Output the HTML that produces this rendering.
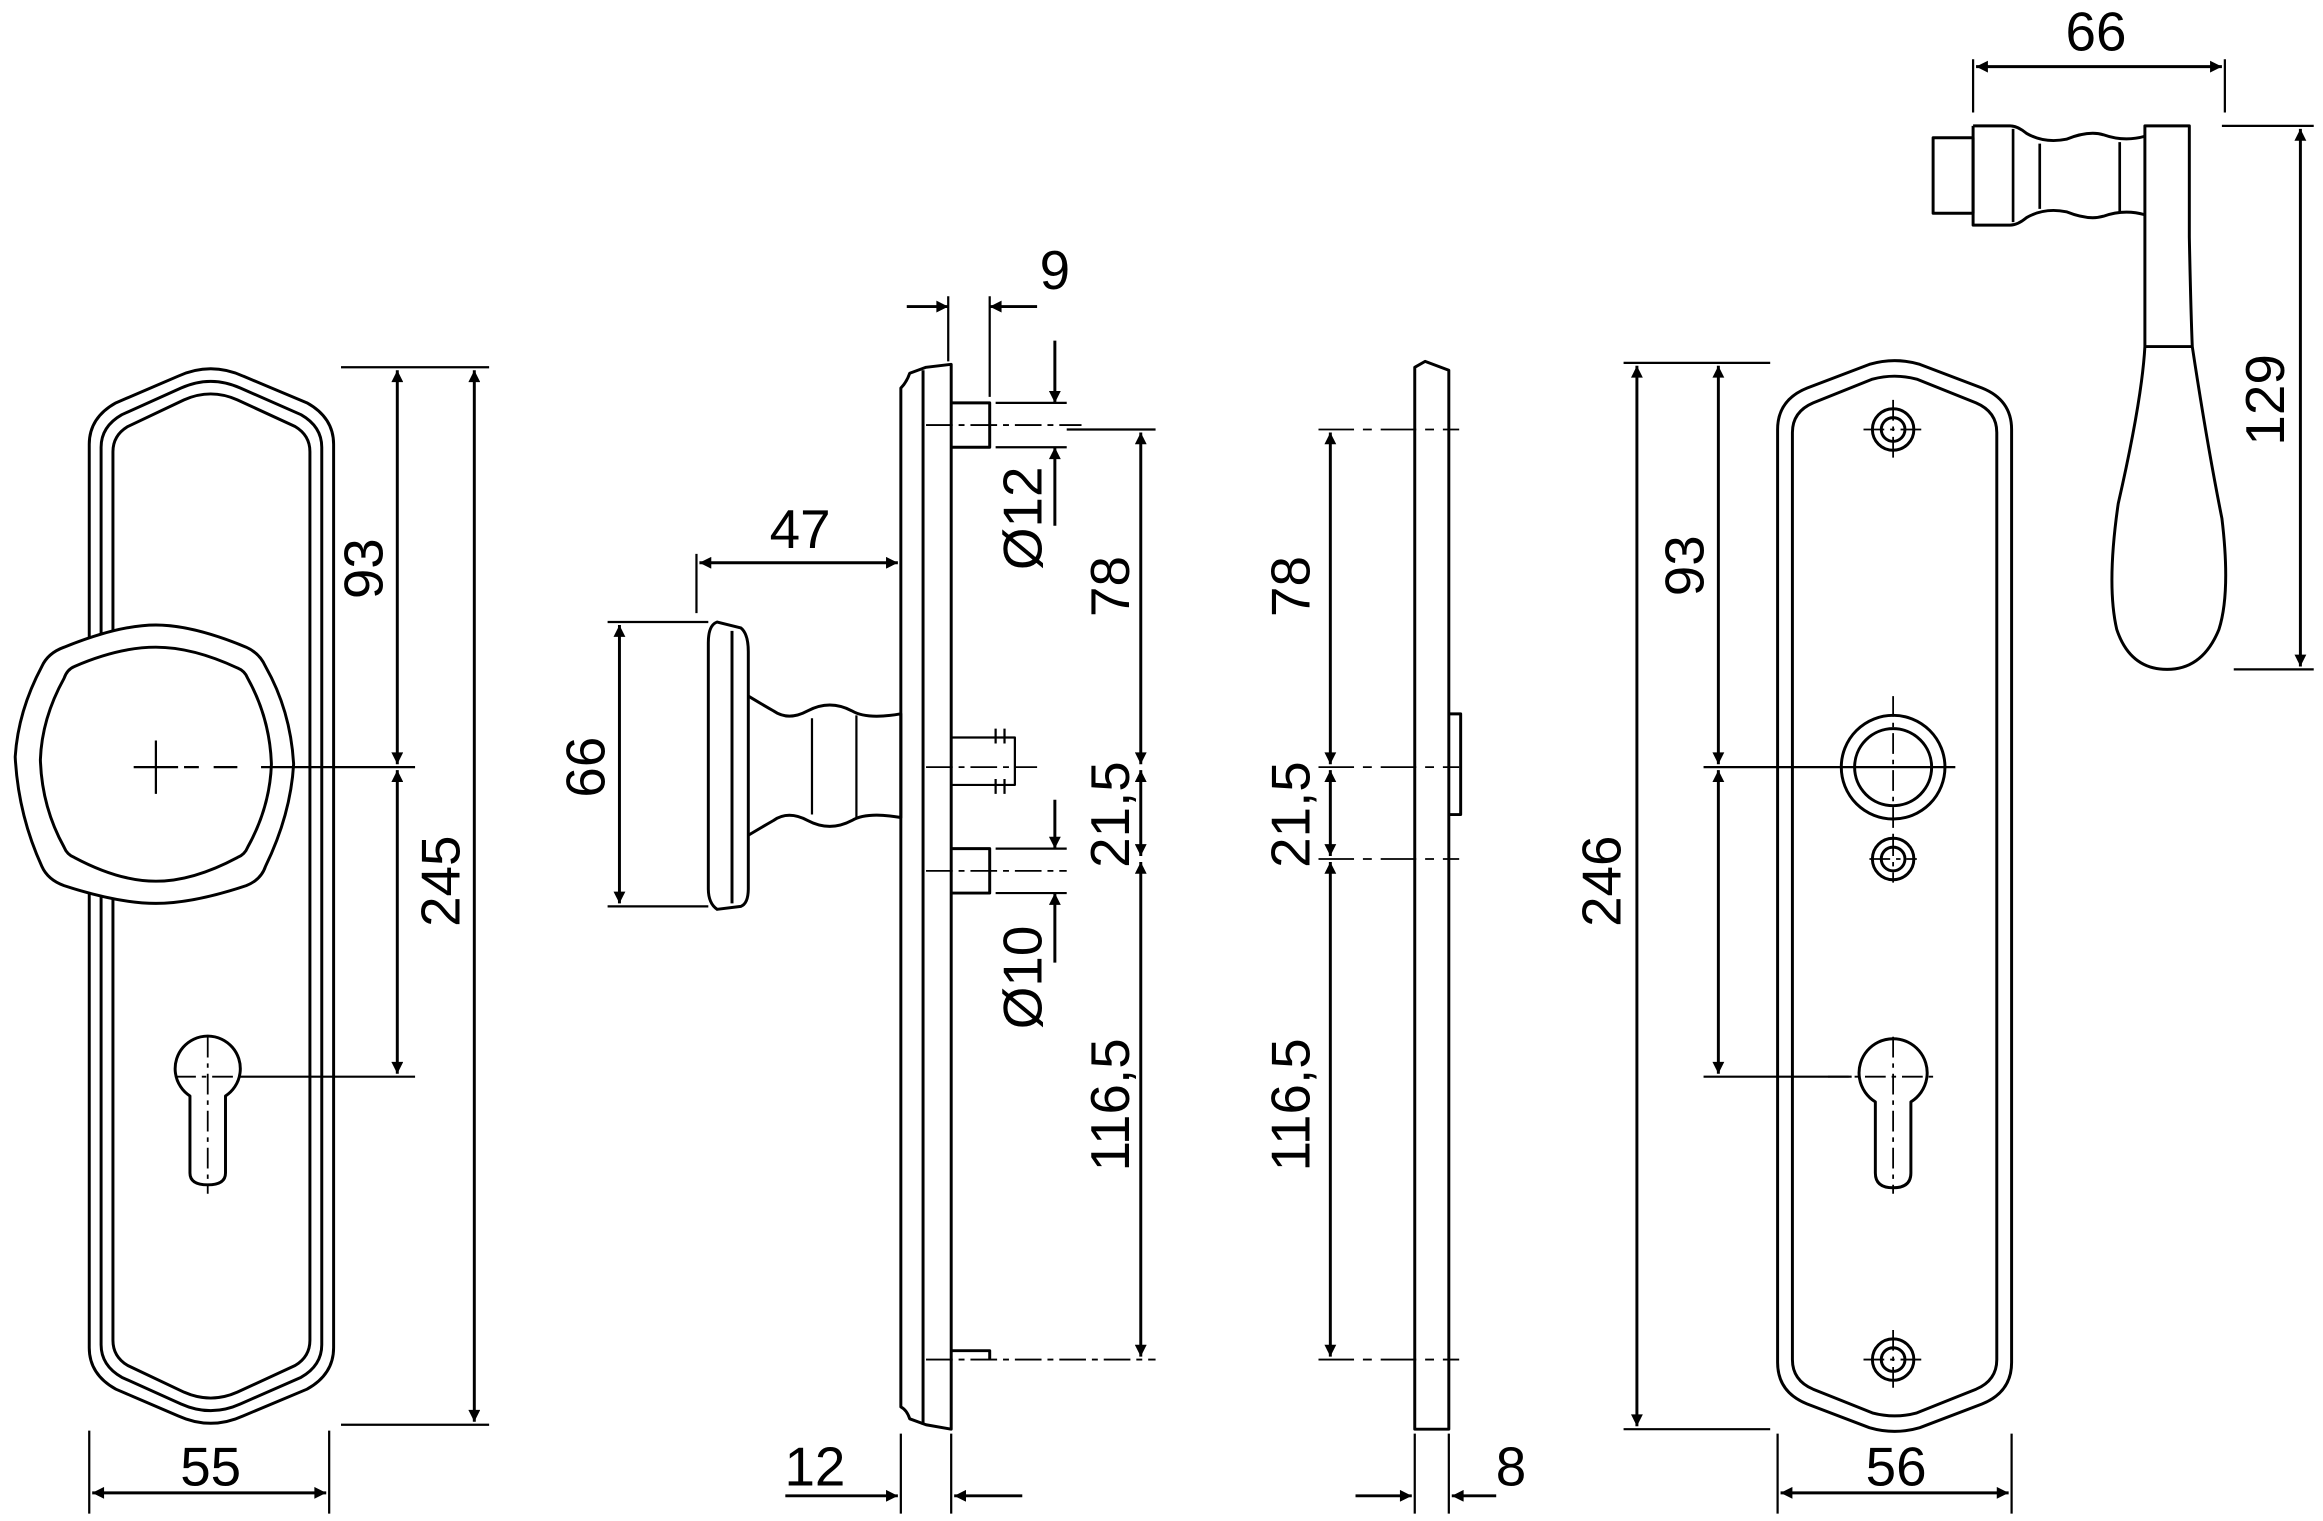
<!DOCTYPE html>
<html><head><meta charset="utf-8"><style>
html,body{margin:0;padding:0;background:#fff}
svg{display:block}
text{font-family:"Liberation Sans",Arial,sans-serif;font-size:37px;fill:#000}
</style></head><body>
<svg width="2323" height="1521" viewBox="0 0 1568 1027" xmlns="http://www.w3.org/2000/svg">
<defs>
<marker id="a" viewBox="0 0 10 10" refX="10" refY="5" markerWidth="22" markerHeight="8" markerUnits="userSpaceOnUse" orient="auto-start-reverse"><path d="M0,0L10,5L0,10z" fill="#000"/></marker>
</defs>
<g fill="none" stroke="#000" stroke-width="2" stroke-linejoin="round">
<!-- LEFT PLATE -->
<path d="M60,300 Q60,282 78,272 L120,254 Q142,244 164,254 L207,272 Q225,282 225,300 L225,910 Q225,928 207,938 L164,956 Q142,966 120,956 L78,938 Q60,928 60,910 Z"/>
<path d="M68,302 Q68,288 82,280 L122,262 Q142,253 162,262 L203,280 Q217,288 217,302 L217,908 Q217,922 203,930 L162,948 Q142,957 122,948 L82,930 Q68,922 68,908 Z"/>
<path d="M76,305 Q76,294 86,288 L124,270 Q142,262 160,270 L199,288 Q209,294 209,305 L209,905 Q209,916 199,922 L160,940 Q142,948 124,940 L86,922 Q76,916 76,905 Z"/>
<!-- knob front -->
<path d="M105,422 Q80,422 43,437 Q32,441 28,450 Q12,480 10,511 Q12,550 28,585 Q32,594 43,598 Q80,610 105,610 Q130,610 166,598 Q176,594 179,585 Q196,550 198,516 Q196,480 179,450 Q175,441 166,437 Q130,422 105,422 Z" fill="#fff"/>
<path d="M105,437 Q80,437 50,450 Q45,452 43,458 Q28,485 27,513 Q28,545 43,572 Q45,577 50,579 Q80,595 105,595 Q130,595 160,579 Q165,577 167,572 Q182,545 183,516 Q182,485 167,458 Q165,453 160,451 Q130,437 105,437 Z"/>
<path d="M105,500 V536 M90,518 H120" stroke-width="1.5"/>
<path d="M124,518 H134 M144,518 H160 M176,518 H280" stroke-width="1.5"/>
<!-- keyhole -->
<path d="M128,740 A22,22 0 1 1 152,740 L152,792 Q152,800 140,800 Q128,800 128,792 Z"/>
<path d="M118,727 H162 M140,700 V806" stroke-width="1.2" stroke-dasharray="14,4,3,4"/>
<path d="M162,727 H280" stroke-width="1.5"/>
<!-- left dims -->
<path d="M230,248 H330 M230,962 H330" stroke-width="1.5"/>
<line x1="268" y1="250" x2="268" y2="516" marker-start="url(#a)" marker-end="url(#a)"/>
<line x1="268" y1="520" x2="268" y2="725" marker-start="url(#a)" marker-end="url(#a)"/>
<line x1="320" y1="250" x2="320" y2="960" marker-start="url(#a)" marker-end="url(#a)"/>
<path d="M60,966 V1022 M222,966 V1022" stroke-width="1.5"/>
<line x1="62" y1="1008" x2="220" y2="1008" marker-start="url(#a)" marker-end="url(#a)"/>

<!-- MIDDLE SIDE VIEW -->
<path d="M608,262 Q612,258 614,252 L625,248 L642,246 V965 L625,962 L614,958 Q612,952 608,950 Z"/>
<path d="M623,250 V962"/>
<path d="M642,272 H668 V302 H642"/>
<path d="M642,573 H668 V603 H642"/>
<path d="M642,912 H668 V918" />
<path d="M642,498 H685 V530 H642 M672,492 V502 M678,492 V502 M672,526 V536 M678,526 V536" stroke-width="1.5"/>
<path d="M625,287 H730 M625,518 H700 M625,588 H720 M625,918 H780" stroke-width="1.2" stroke-dasharray="18,4,4,4"/>
<path d="M672,272 H720 M672,302 H720 M672,573 H720 M672,603 H720 M668,200 V268 M640,200 V244" stroke-width="1.5"/>
<path d="M720,290 H780" stroke-width="1.5"/>
<line x1="712" y1="230" x2="712" y2="272" marker-end="url(#a)"/>
<line x1="712" y1="355" x2="712" y2="302" marker-end="url(#a)"/>
<line x1="712" y1="540" x2="712" y2="573" marker-end="url(#a)"/>
<line x1="712" y1="650" x2="712" y2="603" marker-end="url(#a)"/>
<line x1="770" y1="292" x2="770" y2="516" marker-start="url(#a)" marker-end="url(#a)"/>
<line x1="770" y1="520" x2="770" y2="578" marker-start="url(#a)" marker-end="url(#a)"/>
<line x1="770" y1="582" x2="770" y2="916" marker-start="url(#a)" marker-end="url(#a)"/>
<line x1="612" y1="207" x2="640" y2="207" marker-end="url(#a)"/>
<line x1="700" y1="207" x2="668" y2="207" marker-end="url(#a)"/>
<!-- knob side -->
<path d="M484,420 L500,424 Q505,428 505,440 L505,600 Q505,610 500,612 L484,614 Q478,610 478,600 V434 Q478,422 484,420 Z"/>
<path d="M494,426 V610"/>
<path d="M505,470 Q515,476 522,480 Q532,487 545,480 Q560,472 575,480 Q585,486 608,482 V552 Q585,548 575,554 Q560,562 545,554 Q532,547 522,554 Q515,558 505,564"/>
<path d="M548,485 V550 M578,483 V552" stroke-width="1.5"/>
<path d="M470,374 V414 M608,374 V420" stroke-width="1.5"/>
<line x1="472" y1="380" x2="606" y2="380" marker-start="url(#a)" marker-end="url(#a)"/>
<path d="M410,420 H478 M410,612 H478" stroke-width="1.5"/>
<line x1="418" y1="422" x2="418" y2="610" marker-start="url(#a)" marker-end="url(#a)"/>
<path d="M608,968 V1022 M642,968 V1022" stroke-width="1.5"/>
<line x1="530" y1="1010" x2="606" y2="1010" marker-end="url(#a)"/>
<line x1="690" y1="1010" x2="644" y2="1010" marker-end="url(#a)"/>

<!-- THIRD VIEW -->
<path d="M955,248 L962,244 L978,250 V965 H955 Z"/>
<path d="M978,482 H986 V550 H978"/>
<path d="M890,290 H985 M890,518 H985 M890,580 H985 M890,918 H985" stroke-width="1.2" stroke-dasharray="24,6,6,6"/>
<line x1="898" y1="292" x2="898" y2="516" marker-start="url(#a)" marker-end="url(#a)"/>
<line x1="898" y1="520" x2="898" y2="578" marker-start="url(#a)" marker-end="url(#a)"/>
<line x1="898" y1="582" x2="898" y2="916" marker-start="url(#a)" marker-end="url(#a)"/>
<path d="M955,968 V1022 M978,968 V1022" stroke-width="1.5"/>
<line x1="915" y1="1010" x2="953" y2="1010" marker-end="url(#a)"/>
<line x1="1010" y1="1010" x2="980" y2="1010" marker-end="url(#a)"/>

<!-- RIGHT PLATE -->
<path d="M1200,290 Q1200,270 1220,262 L1262,246 Q1279,241 1296,246 L1338,262 Q1358,270 1358,290 L1358,920 Q1358,940 1338,948 L1296,964 Q1279,969 1262,964 L1220,948 Q1200,940 1200,920 Z"/>
<path d="M1210,292 Q1210,278 1224,272 L1264,256 Q1279,252 1294,256 L1334,272 Q1348,278 1348,292 L1348,918 Q1348,932 1334,938 L1294,954 Q1279,958 1264,954 L1224,938 Q1210,932 1210,918 Z"/>
<circle cx="1278" cy="290" r="14"/><circle cx="1278" cy="290" r="8"/>
<circle cx="1278" cy="918" r="14"/><circle cx="1278" cy="918" r="8"/>
<circle cx="1278" cy="518" r="35"/><circle cx="1278" cy="518" r="26"/>
<circle cx="1278" cy="580" r="14"/><circle cx="1278" cy="580" r="8"/>
<path d="M1266,744 A23,23 0 1 1 1290,744 L1290,792 Q1290,802 1278,802 Q1266,802 1266,792 Z"/>
<path d="M1258,290 H1298 M1278,270 V310 M1258,918 H1298 M1278,898 V938 M1262,580 H1294 M1278,564 V596 M1278,470 V566 M1234,727 H1306 M1278,700 V806" stroke-width="1.2" stroke-dasharray="14,4,3,4"/>
<path d="M1150,518 H1320 M1150,727 H1250" stroke-width="1.5"/>
<path d="M1096,245 H1195 M1096,965 H1195" stroke-width="1.5"/>
<line x1="1105" y1="247" x2="1105" y2="963" marker-start="url(#a)" marker-end="url(#a)"/>
<line x1="1160" y1="247" x2="1160" y2="516" marker-start="url(#a)" marker-end="url(#a)"/>
<line x1="1160" y1="520" x2="1160" y2="725" marker-start="url(#a)" marker-end="url(#a)"/>
<path d="M1200,968 V1022 M1358,968 V1022" stroke-width="1.5"/>
<line x1="1202" y1="1008" x2="1356" y2="1008" marker-start="url(#a)" marker-end="url(#a)"/>

<!-- LEVER -->
<rect x="1305" y="93" width="27" height="51"/>
<path d="M1332,85 H1357 Q1362,85 1368,90 Q1380,97 1395,94 Q1410,88 1420,91 Q1434,96 1448,92"/>
<path d="M1332,85 V152 H1357 Q1362,152 1368,147 Q1380,140 1395,143 Q1410,149 1420,146 Q1434,141 1448,145"/>
<path d="M1359,87 V150 M1377,97 V141 M1431,96 V143" stroke-width="1.8"/>
<path d="M1448,85 H1478 V160 Q1479,210 1480,234 Q1490,300 1500,350 Q1506,400 1498,425 Q1487,452 1463,452 Q1438,452 1429,425 Q1422,395 1430,340 Q1446,270 1448,234 Q1448,200 1448,160 Z"/>
<path d="M1448,234 H1480" />
<path d="M1332,40 V76 M1502,40 V76" stroke-width="1.5"/>
<line x1="1334" y1="45" x2="1500" y2="45" marker-start="url(#a)" marker-end="url(#a)"/>
<path d="M1500,85 H1562 M1508,452 H1562" stroke-width="1.5"/>
<line x1="1553" y1="87" x2="1553" y2="450" marker-start="url(#a)" marker-end="url(#a)"/>
</g>
<g>
<text transform="translate(258,384) rotate(-90)" text-anchor="middle">93</text>
<text transform="translate(310,595) rotate(-90)" text-anchor="middle">245</text>
<text x="142" y="1003" text-anchor="middle">55</text>
<text x="540" y="370" text-anchor="middle">47</text>
<text transform="translate(408,518) rotate(-90)" text-anchor="middle">66</text>
<text x="550" y="1003" text-anchor="middle">12</text>
<text x="712" y="195" text-anchor="middle">9</text>
<text transform="translate(703,350) rotate(-90)" text-anchor="middle">Ø12</text>
<text transform="translate(703,660) rotate(-90)" text-anchor="middle">Ø10</text>
<text transform="translate(762,396) rotate(-90)" text-anchor="middle">78</text>
<text transform="translate(762,550) rotate(-90)" text-anchor="middle">21,5</text>
<text transform="translate(762,746) rotate(-90)" text-anchor="middle">116,5</text>
<text transform="translate(884,396) rotate(-90)" text-anchor="middle">78</text>
<text transform="translate(884,550) rotate(-90)" text-anchor="middle">21,5</text>
<text transform="translate(884,746) rotate(-90)" text-anchor="middle">116,5</text>
<text x="1020" y="1003" text-anchor="middle">8</text>
<text transform="translate(1094,595) rotate(-90)" text-anchor="middle">246</text>
<text transform="translate(1150,382) rotate(-90)" text-anchor="middle">93</text>
<text x="1280" y="1003" text-anchor="middle">56</text>
<text x="1415" y="34" text-anchor="middle">66</text>
<text transform="translate(1542,270) rotate(-90)" text-anchor="middle">129</text>
</g>
</svg>
</body></html>
